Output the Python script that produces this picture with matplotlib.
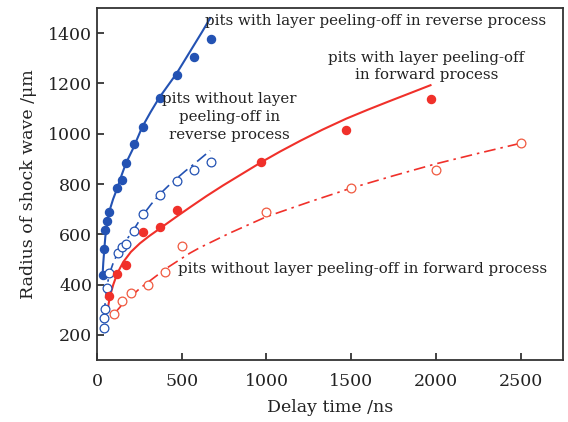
import matplotlib
matplotlib.use("Agg")
import matplotlib.pyplot as plt

# ---- data ----
# reverse process, pits with layer peeling-off (filled blue)
rev_peel_t = [37, 43, 49, 61, 71, 120, 145, 171, 220, 269, 371, 470, 570, 670]
rev_peel_r = [440, 540, 616, 653, 689, 784, 817, 883, 960, 1027, 1143, 1233, 1305, 1377]
rev_peel_fit_t = [33, 37, 43, 49, 60, 71, 95, 120, 145, 171, 212, 267, 317, 367, 420, 470, 520, 570, 620, 668]
rev_peel_fit_r = [440, 487, 540, 590, 645, 688, 740, 784, 835, 883, 940, 1027, 1087, 1143, 1193, 1240, 1295, 1350, 1405, 1460]

# reverse process, pits without layer peeling-off (open blue)
rev_nopeel_t = [41, 43, 47, 57, 72, 122, 145, 171, 220, 269, 371, 470, 570, 670]
rev_nopeel_r = [229, 268, 302, 385, 445, 527, 548, 560, 613, 680, 756, 813, 856, 887]
rev_nopeel_fit_t = [40, 47, 57, 72, 95, 122, 145, 171, 220, 269, 320, 371, 420, 470, 520, 570, 620, 668]
rev_nopeel_fit_r = [250, 320, 385, 440, 485, 525, 550, 575, 622, 675, 720, 760, 792, 822, 851, 878, 906, 933]

# forward process, pits with layer peeling-off (filled red)
fwd_peel_t = [71, 120, 171, 270, 370, 470, 970, 1470, 1970]
fwd_peel_r = [356, 444, 477, 609, 629, 696, 889, 1016, 1140]
fwd_peel_fit_t = [63, 75, 96, 120, 155, 200, 253, 310, 371, 469, 550, 646, 743, 843, 970, 1080, 1200, 1330, 1471, 1600, 1720, 1850, 1968]
fwd_peel_fit_r = [300, 350, 400, 445, 490, 530, 564, 594, 623, 670, 708, 752, 794, 835, 887, 929, 972, 1016, 1060, 1096, 1128, 1162, 1193]

# forward process, pits without layer peeling-off (open red)
fwd_nopeel_t = [100, 150, 200, 300, 400, 500, 1000, 1500, 2000, 2500]
fwd_nopeel_r = [284, 333, 367, 400, 449, 553, 689, 784, 856, 963]
fwd_nopeel_fit_t = [96, 155, 253, 410, 548, 607, 784, 1000, 1250, 1501, 1750, 1998, 2250, 2499]
fwd_nopeel_fit_r = [280, 325, 385, 465, 525, 547, 605, 670, 728, 784, 833, 880, 922, 962]

x_ticks = [0, 500, 1000, 1500, 2000, 2500]
y_ticks = [200, 400, 600, 800, 1000, 1200, 1400]

BLUE = "#2352b3"
RED = "#f0302a"
RED_OPEN = "#f05a40"

plt.rcParams['font.family'] = ['DejaVu Serif']

fig = plt.figure(figsize=(5.68, 4.22), dpi=100)
ax = fig.add_axes([0.1708, 0.1469, 0.8204, 0.8341])

# fits
ax.plot(rev_peel_fit_t, rev_peel_fit_r, '-', color=BLUE, lw=1.5)
ax.plot(rev_nopeel_fit_t, rev_nopeel_fit_r, color=BLUE, lw=1.2, dashes=[7, 3, 1.5, 3])
ax.plot(fwd_peel_fit_t, fwd_peel_fit_r, '-', color=RED, lw=1.5)
ax.plot(fwd_nopeel_fit_t, fwd_nopeel_fit_r, color=RED, lw=1.2, dashes=[7, 3, 1.5, 3])

# points
ax.plot(rev_peel_t, rev_peel_r, 'o', color=BLUE, ms=5.8, mec=BLUE)
ax.plot(rev_nopeel_t, rev_nopeel_r, 'o', mfc='white', mec=BLUE, ms=6.3, mew=0.9)
ax.plot(fwd_peel_t, fwd_peel_r, 'o', color=RED, ms=5.8, mec=RED)
ax.plot(fwd_nopeel_t, fwd_nopeel_r, 'o', mfc='white', mec=RED_OPEN, ms=6.3, mew=0.9)

ax.set_xlim(0, 2750)
ax.set_ylim(100, 1500)
ax.set_xticks(x_ticks)
ax.set_yticks(y_ticks)
ax.tick_params(direction='in', length=5, width=1.2, labelsize=12.5, colors='#222222')
ax.tick_params(axis='x', pad=9)
for s in ax.spines.values():
    s.set_linewidth(1.3)
    s.set_color('#333333')

ax.set_xlabel('Delay time /ns', fontsize=12.5, labelpad=7, color='#222222')
ax.set_ylabel('Radius of shock wave /μm', fontsize=12.5, labelpad=8, color='#222222')

tk = dict(fontsize=10.8, color='#222222')
ax.text(640, 1450, 'pits with layer peeling-off in reverse process', ha='left', va='center', **tk)
ax.text(1945, 1268, 'pits with layer peeling-off\nin forward process', ha='center', va='center',
        linespacing=1.3, **tk)
ax.text(780, 1066, 'pits without layer\npeeling-off in\nreverse process', ha='center', va='center',
        linespacing=1.35, **tk)
ax.text(477, 460, 'pits without layer peeling-off in forward process', ha='left', va='center', **tk)

fig.savefig('out.png', dpi=100)
